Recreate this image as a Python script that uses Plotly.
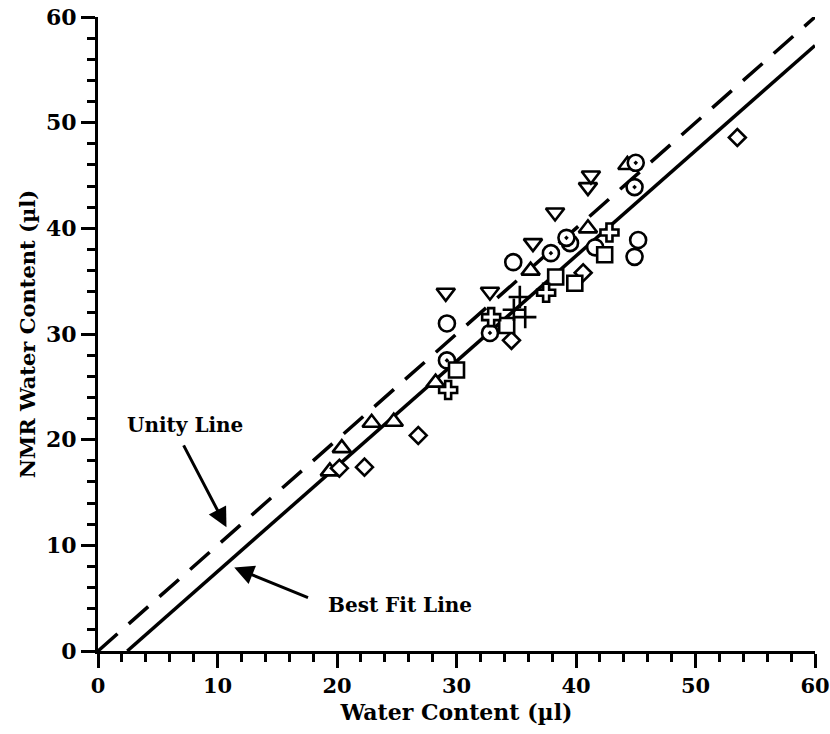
import plotly.graph_objects as go

# ---- data ----
tri_down_x = [29.1, 32.8, 36.4, 38.25, 41.0, 41.25]
tri_down_y = [33.9, 34.0, 38.6, 41.5, 43.9, 45.0]

tri_up_x = [19.4, 20.4, 22.9, 24.75, 28.25, 36.2, 41.0, 44.3]
tri_up_y = [17.0, 19.2, 21.6, 21.7, 25.4, 36.0, 40.0, 46.0]

diamond_x = [20.2, 22.3, 26.8, 34.6, 40.6, 53.5]
diamond_y = [17.3, 17.4, 20.4, 29.4, 35.8, 48.6]

circle_x = [29.2, 34.75, 39.5, 41.6, 45.2, 44.9]
circle_y = [31.0, 36.8, 38.6, 38.2, 38.9, 37.3]

circledot_x = [29.2, 32.8, 37.9, 44.9, 45.0, 39.2]
circledot_y = [27.5, 30.1, 37.65, 43.9, 46.2, 39.1]

square_x = [30.0, 34.2, 38.3, 39.9, 42.4]
square_y = [26.6, 30.8, 35.4, 34.8, 37.5]

opencross_x = [29.3, 32.9, 37.5, 42.8]
opencross_y = [24.7, 31.6, 33.9, 39.6]

plus_x = [35.3, 35.75, 34.8]
plus_y = [33.5, 31.6, 32.3]

unity_x = [0, 60]
unity_y = [0, 60]

fit_x = [2.45, 60]
fit_y = [0, 57.3]

x_ticks = [0, 10, 20, 30, 40, 50, 60]
y_ticks = [0, 10, 20, 30, 40, 50, 60]

FONT = "DejaVu Serif"

fig = go.Figure()

fig.add_trace(go.Scatter(x=unity_x, y=unity_y, mode="lines",
                         line=dict(color="black", width=3.5, dash="26px,15px"),
                         showlegend=False, hoverinfo="skip"))
fig.add_trace(go.Scatter(x=fit_x, y=fit_y, mode="lines",
                         line=dict(color="black", width=3.5),
                         showlegend=False, hoverinfo="skip"))

def pts(x, y, symbol, size=14, width=2.6, color="white"):
    fig.add_trace(go.Scatter(
        x=x, y=y, mode="markers", showlegend=False,
        marker=dict(symbol=symbol, size=size, color=color,
                    line=dict(color="black", width=width))))

pts(tri_down_x, tri_down_y, "triangle-down", size=16)
pts(tri_up_x, tri_up_y, "triangle-up", size=16)
pts(diamond_x, diamond_y, "diamond", size=13)
pts(circle_x, circle_y, "circle", size=16)
pts(circledot_x, circledot_y, "circle-dot", size=16)
pts(square_x, square_y, "square", size=15)
pts(opencross_x, opencross_y, "cross", size=15)
pts(plus_x, plus_y, "cross-thin", size=16, width=2.6, color="black")

annot_font = dict(family=FONT, size=20, color="black")

annotations = [
    dict(x=7.25, y=21.4, xref="x", yref="y", text="<b>Unity Line</b>",
         showarrow=False, font=annot_font),
    dict(x=10.75, y=11.7, ax=7.1, ay=19.6, xref="x", yref="y", axref="x", ayref="y",
         text="", showarrow=True, arrowhead=2, arrowsize=1.3, arrowwidth=3,
         arrowcolor="black"),
    dict(x=19.1, y=4.35, xref="x", yref="y", text="<b>Best Fit Line</b>",
         xanchor="left", showarrow=False, font=annot_font),
    dict(x=11.4, y=7.9, ax=17.7, ay=5.0, xref="x", yref="y", axref="x", ayref="y",
         text="", showarrow=True, arrowhead=2, arrowsize=1.3, arrowwidth=3,
         arrowcolor="black"),
]

axis_common = dict(
    showgrid=False, zeroline=False, showline=True, linecolor="black", linewidth=3,
    ticks="outside", ticklen=14, tickwidth=3, tickcolor="black",
    minor=dict(dtick=2, ticks="outside", ticklen=8, tickwidth=2.5, tickcolor="black"),
    mirror=False, automargin=False, ticklabeloverflow="allow",
)

fig.update_layout(
    width=830, height=734,
    margin=dict(l=98, r=15, t=17, b=83),
    paper_bgcolor="white", plot_bgcolor="white",
    xaxis=dict(range=[0, 60], tickvals=x_ticks, ticktext=[f"<b>{v}</b>" for v in x_ticks],
               tickfont=dict(family=FONT, size=21, color="black"),
               title=dict(text="<b>Water Content (µl)</b>", standoff=8,
                          font=dict(family=FONT, size=22, color="black")),
               **axis_common),
    yaxis=dict(range=[0, 60], tickvals=y_ticks, ticktext=[f"<b>{v}</b>" for v in y_ticks],
               tickfont=dict(family=FONT, size=22, color="black"),
               title=dict(text="<b>NMR Water Content (µl)</b>", standoff=5,
                          font=dict(family=FONT, size=21, color="black")),
               **axis_common),
    annotations=annotations,
)

fig.write_html("out.html")
